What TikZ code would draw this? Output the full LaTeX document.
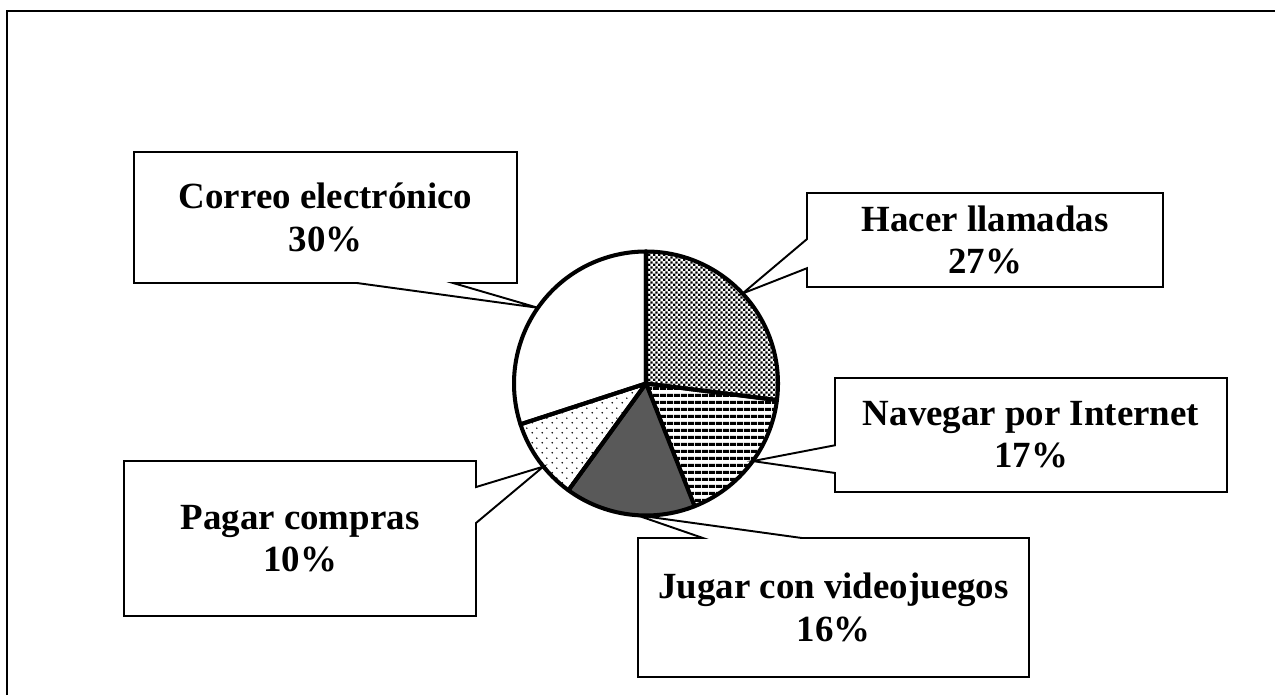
\documentclass[tikz,border=0pt]{standalone}
\usepackage{fontspec}
\setmainfont{Liberation Serif}
\usetikzlibrary{calc,patterns.meta}

\tikzdeclarepattern{name=checks, tile size={(3pt,3pt)},
  bottom left={(0,0)}, top right={(3pt,3pt)},
  code={\fill (0,0) rectangle (1.5pt,1.5pt); \fill (1.5pt,1.5pt) rectangle (3pt,3pt);}}
\tikzdeclarepattern{name=hstripes, tile size={(4pt,3.8pt)},
  bottom left={(0,0)}, top right={(4pt,3.8pt)},
  code={\fill (0,0) rectangle (4pt,1.9pt);}}
\tikzdeclarepattern{name=specks, tile size={(5.7pt,5.7pt)},
  bottom left={(0,0)}, top right={(5.7pt,5.7pt)},
  code={\fill (1.4pt,1.4pt) circle (0.5pt); \fill (4.25pt,4.25pt) circle (0.5pt);}}

\tikzset{
  lbl/.style={rectangle, inner sep=0pt, outer sep=0pt, align=center,
    font=\fontsize{21}{24}\selectfont\bfseries},
  callout/.style={line width=1.1pt, line join=miter},
  slice/.style={line width=2.3pt, line join=round},
}

\begin{document}
\begin{tikzpicture}
  \useasboundingbox (0,0) rectangle (25.5,13.9);
  \draw [line width=1.2pt] (0.14,0) -- (0.14,13.68) -- (25.5,13.68);

  % pie
  \def\r{2.64}
  \coordinate (c) at (12.92,6.23);
  \node [circle, minimum size=5.28cm, inner sep=0pt, outer sep=0pt] (pie) at (c) {};
  \filldraw [slice, pattern=checks] (c) -- ++(90:\r) arc [start angle=90, end angle=-7.2, radius=\r] -- cycle;
  \filldraw [slice, pattern=hstripes] (c) -- ++(-7.2:\r) arc [start angle=-7.2, end angle=-68.4, radius=\r] -- cycle;
  \filldraw [slice, fill=black!65] (c) -- ++(-68.4:\r) arc [start angle=-68.4, end angle=-126, radius=\r] -- cycle;
  \filldraw [slice, pattern=specks] (c) -- ++(-126:\r) arc [start angle=-126, end angle=-162, radius=\r] -- cycle;
  \draw [slice] (c) -- ++(-162:\r) arc [start angle=198, end angle=90, radius=\r] -- cycle;

  % labels
  \node [lbl, minimum width=7.66cm, minimum height=2.62cm] (cor) at (6.51,9.55) {Correo electrónico\\30\%};
  \node [lbl, minimum width=7.12cm, minimum height=1.88cm] (hac) at (19.70,9.10) {Hacer llamadas\\27\%};
  \node [lbl, minimum width=7.84cm, minimum height=2.28cm] (nav) at (20.62,5.20) {Navegar por Internet\\17\%};
  \node [lbl, minimum width=7.82cm, minimum height=2.78cm] (jug) at (16.67,1.75) {Jugar con videojuegos\\16\%};
  \node [lbl, minimum width=7.04cm, minimum height=3.10cm] (pag) at (6.00,3.13) {Pagar compras\\10\%};

  % callouts
  \draw [callout] (cor.north west) -- (cor.north east) -- (cor.south east)
    -- ($(cor.south west)!0.833!(cor.south east)$) -- (pie.145)
    -- ($(cor.south west)!0.582!(cor.south east)$) -- (cor.south west) -- cycle;
  \draw [callout] (hac.north west) -- (hac.north east) -- (hac.south east) -- (hac.south west)
    -- ($(hac.south west)!0.20!(hac.north west)$) -- (pie.43)
    -- ($(hac.south west)!0.51!(hac.north west)$) -- cycle;
  \draw [callout] (nav.north west) -- (nav.north east) -- (nav.south east) -- (nav.south west)
    -- ($(nav.south west)!0.167!(nav.north west)$) -- (pie.-36)
    -- ($(nav.south west)!0.41!(nav.north west)$) -- cycle;
  \draw [callout] (jug.north west) -- ($(jug.north west)!0.166!(jug.north east)$) -- (pie.-94)
    -- ($(jug.north west)!0.419!(jug.north east)$) -- (jug.north east)
    -- (jug.south east) -- (jug.south west) -- cycle;
  \draw [callout] (pag.north west) -- (pag.north east)
    -- ($(pag.north east)!0.168!(pag.south east)$) -- (pie.219)
    -- ($(pag.north east)!0.40!(pag.south east)$) -- (pag.south east) -- (pag.south west) -- cycle;
\end{tikzpicture}
\end{document}
